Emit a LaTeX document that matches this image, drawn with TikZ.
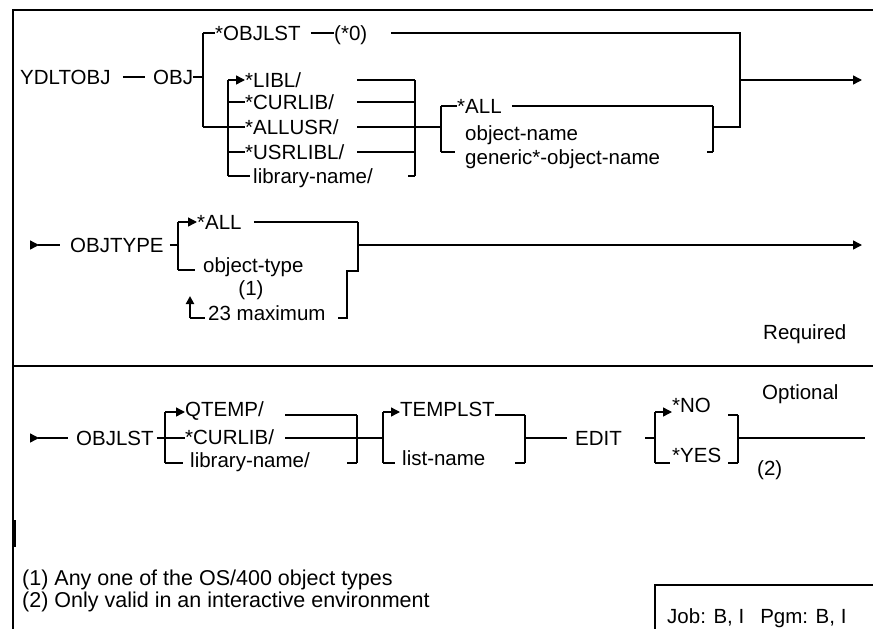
\documentclass[tikz,border=0pt]{standalone}
\usepackage{fontspec}
\setmainfont{Liberation Sans}
\usetikzlibrary{arrows.meta,positioning}
\newcommand\synfont{\fontsize{20.5}{24}\selectfont}
\newcommand\notefont{\fontsize{21.5}{24}\selectfont}

\begin{document}
\begin{tikzpicture}[x=1pt,y=-1pt,
  lbl/.style={font=\synfont,inner sep=0pt,anchor=west,text height=14.5pt,text depth=0pt},
  note/.style={lbl,font=\notefont},
  wire/.style={line width=1.4pt},
  brace/.style={line width=2.8pt},
  tip/.style={-{Triangle[length=9pt,width=9pt]}},
  frame/.style={line width=1.8pt}
]
\useasboundingbox (0,0) rectangle (873,629);
% frame
\draw[frame] (13,629) -- (13,10) -- (873,10);
\draw[line width=2.2pt] (13,366) -- (873,366);
\draw[line width=3pt] (14,520) -- (14,547);
\draw[frame] (655,629) -- (655,585) -- (873,585);

% row 1
\node[lbl] (ydl) at (20,77) {YDLTOBJ};
\node[lbl] (objkw) at (153,77) {OBJ};
\node[lbl] (objlst) at (215,33) {*OBJLST};
\node[lbl] (zero) at (334,33) {(*0)};
\node[lbl] (libl) at (245,80) {*LIBL/};
\node[lbl] (curlib) at (245,102) {*CURLIB/};
\node[lbl] (allusr) at (245,127) {*ALLUSR/};
\node[lbl] (usrlibl) at (245,152) {*USRLIBL/};
\node[lbl] (libname) at (253,176) {library-name/};
\node[lbl] (all1) at (457,106) {*ALL};
\node[lbl] (objname) at (465,133) {object-name};
\node[lbl] (genname) at (465,157) {generic*-object-name};
\coordinate (a1) at (203,33);
\coordinate (a2) at (203,127);
\coordinate (b1) at (228,80);
\coordinate (b2) at (228,176);
\coordinate (rl) at (357,0);
\coordinate (b3) at (415,80);
\coordinate (b4) at (415,176);
\coordinate (c1) at (441,106);
\coordinate (c2) at (441,152);
\coordinate (c3) at (713,106);
\coordinate (c4) at (713,152);
\coordinate (r1) at (740,33);
\coordinate (r2) at (740,127);
\coordinate (out1) at (862,80);
\draw[wire] ([xshift=12pt]ydl.east) -- ([xshift=-8pt]objkw.west);
\draw[wire] (objkw.east) -- (a1 |- objkw);
\draw[brace] (a1) -- (a2);
\draw[wire] (a1) -- (objlst.west);
\draw[wire] ([xshift=10pt]objlst.east) -- (zero.west);
\draw[wire] ([xshift=24pt]zero.east) -- (r1) -- (r2) -- (c3 |- a2);
\draw[wire,tip] (r1 |- out1) -- (out1);
\draw[wire] (a2) -- (a2 -| b1);
\draw[brace] (b1) -- (b2);
\draw[wire,tip] (b1) -- (libl.west);
\foreach \n in {curlib,allusr,usrlibl}
  \draw[wire] (b1 |- \n) -- (\n.west);
\draw[wire] (b2) -- ([xshift=-3pt]libname.west);
\foreach \n in {libl,curlib,allusr,usrlibl}
  \draw[wire] (rl |- \n) -- (b3 |- \n);
\draw[wire] ([xshift=-7pt]b4) -- (b4);
\draw[brace] (b3) -- (b4);
\draw[wire] (b3 |- a2) -- (c1 |- a2);
\draw[line width=2pt] (c1) -- (c2);
\draw[wire] (c1) -- (all1.west);
\draw[wire] (c2) -- ++(14,0);
\draw[wire] ([xshift=10pt]all1.east) -- (c3);
\draw[line width=2.2pt] (c3) -- (c4);
\draw[wire] ([xshift=-6pt]c4) -- (c4);

% row 2
\node[lbl] (objtype) at (70,245) {OBJTYPE};
\node[lbl] (allt) at (197,222) {*ALL};
\node[lbl] (otype) at (203,265) {object-type};
\node[lbl,anchor=center] (note1) at (251,288) {(1)};
\node[lbl] (maxn) at (208,313) {23 maximum};
\node[lbl] (required) at (763,332) {Required};
\coordinate (s2) at (31,245);
\coordinate (d1) at (178,222);
\coordinate (d2) at (178,270);
\coordinate (d3) at (358,222);
\coordinate (d4) at (358,271);
\coordinate (d5) at (347,318);
\coordinate (rp) at (190,318);
\coordinate (out2) at (862,245);
\draw[wire,tip] (s2) -- ++(8,0);
\draw[wire] ([xshift=7pt]s2) -- ([xshift=-10pt]objtype.west);
\draw[wire] ([xshift=6pt]objtype.east) -- (d1 |- objtype);
\draw[brace] (d1) -- (d2);
\draw[wire,tip] (d1) -- (allt.west);
\draw[wire] (d2) -- ++(17,0);
\draw[wire] ([xshift=12pt]allt.east) -- (d3);
\draw[brace] (d3) -- (d4) -- (d4 -| d5) -- (d5) -- ++(-9,0);
\draw[line width=2.4pt,-{Triangle[length=8pt,width=8pt]}] (rp) -- ++(0,-22);
\draw[wire] (rp) -- ++(15,0);
\draw[wire,tip] (d3 |- objtype) -- (out2);

% row 3
\node[lbl] (objlst2) at (76,438) {OBJLST};
\node[lbl] (qtemp) at (185,409) {QTEMP/};
\node[lbl] (curlib2) at (185,437) {*CURLIB/};
\node[lbl] (libname2) at (190,460) {library-name/};
\node[lbl] (templst) at (400,409) {TEMPLST};
\node[lbl] (listname) at (402,458) {list-name};
\node[lbl] (edit) at (575,438) {EDIT};
\node[lbl] (no) at (672,405) {*NO};
\node[lbl] (yes) at (672,455) {*YES};
\node[lbl] (note2) at (757,468) {(2)};
\node[lbl] (optional) at (762,392) {Optional};
\coordinate (s3) at (31,438);
\coordinate (e1) at (165,412);
\coordinate (e2) at (165,463);
\coordinate (rl2) at (285,0);
\coordinate (e3) at (357,415);
\coordinate (e4) at (357,463);
\coordinate (f1) at (383,412);
\coordinate (f2) at (383,463);
\coordinate (f3) at (525,415);
\coordinate (f4) at (525,463);
\coordinate (g1) at (655,412);
\coordinate (g2) at (655,463);
\coordinate (g3) at (738,415);
\coordinate (g4) at (738,463);
\coordinate (out3) at (865,438);
\draw[wire,tip] (s3) -- ++(8,0);
\draw[wire] ([xshift=7pt]s3) -- ([xshift=-8pt]objlst2.west);
\draw[wire] ([xshift=3pt]objlst2.east) -- (e1 |- objlst2);
\draw[brace] (e1) -- (e2);
\draw[wire,tip] (e1) -- (qtemp.west |- e1);
\draw[wire] (e1 |- objlst2) -- (curlib2.west |- objlst2);
\draw[wire] (e2) -- ++(18,0);
\draw[wire] (rl2 |- e3) -- (e3);
\draw[wire] (rl2 |- objlst2) -- (e3 |- objlst2);
\draw[brace] (e3) -- (e4);
\draw[wire] ([xshift=-10pt]e4) -- (e4);
\draw[wire] (e3 |- objlst2) -- (f1 |- objlst2);
\draw[brace] (f1) -- (f2);
\draw[wire,tip] (f1) -- (templst.west |- f1);
\draw[wire] (f2) -- ++(12,0);
\draw[wire] (templst.east |- f3) -- (f3);
\draw[brace] (f3) -- (f4);
\draw[wire] ([xshift=-10pt]f4) -- (f4);
\draw[wire] (f3 |- objlst2) -- ([xshift=-8pt]edit.west);
\draw[wire] ([xshift=23pt]edit.east) -- (g1 |- edit);
\draw[brace] (g1) -- (g2);
\draw[wire,tip] (g1) -- (no.west |- g1);
\draw[wire] (g2) -- ++(15,0);
\draw[brace] (g3) -- (g4);
\draw[wire] ([xshift=-10pt]g3) -- (g3);
\draw[wire] ([xshift=-10pt]g4) -- (g4);
\draw[wire] (g3 |- edit) -- (out3);

% footnotes
\node[note] (fn1) at (22,578) {(1) Any one of the OS/400 object types};
\node[note] (fn2) at (22,600) {(2) Only valid in an interactive environment};
\node[lbl] (job) at (667,616) {Job: B, I\enspace\ Pgm: B, I};
\end{tikzpicture}
\end{document}
